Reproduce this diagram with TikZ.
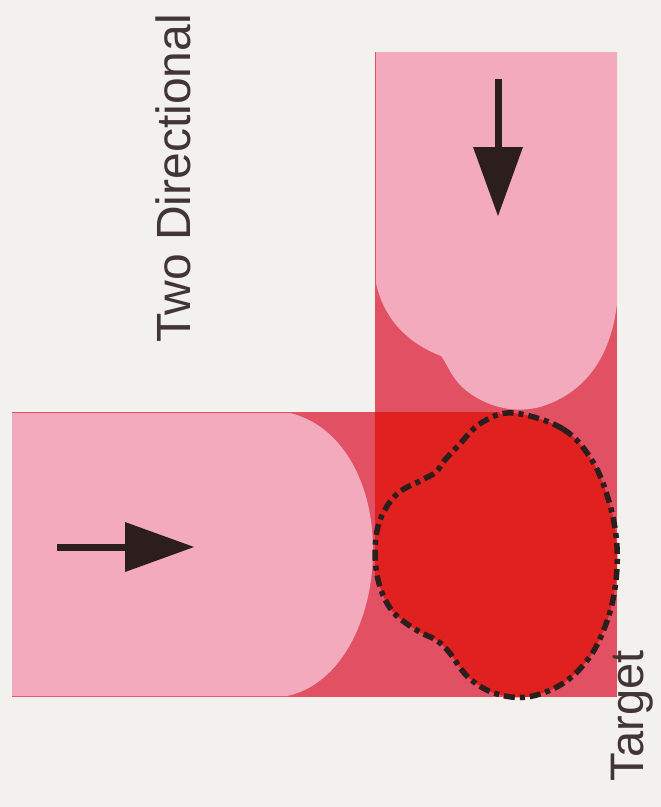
\documentclass[tikz,border=0pt]{standalone}
\usepackage{fontspec}
\setmainfont{Liberation Sans}
\usetikzlibrary{arrows.meta}

\definecolor{paper}{RGB}{243,241,237}
\definecolor{lightpink}{RGB}{243,170,188}
\definecolor{midred}{RGB}{226,80,100}
\definecolor{hotred}{RGB}{225,32,32}
\definecolor{ink}{RGB}{45,30,30}

\begin{document}
\begin{tikzpicture}[x=1pt, y=-1pt,
  band/.style={fill=midred},
  glow/.style={fill=lightpink},
  core/.style={fill=hotred},
  rim/.style={draw=ink, line width=5.5pt, dash pattern=on 11pt off 5pt on 5pt off 5pt},
  shaft/.style={draw=ink, line width=7pt},
  head/.style={fill=ink},
  caption/.style={rotate=90, anchor=base, text=ink!90, font=\fontsize{48}{58}\selectfont}
]
% paper and frame
\fill[paper] (0,0) rectangle (661,807);
\useasboundingbox (0,0) rectangle (661,807);

% the two strips
\fill[band] (12,412) rectangle (376,697);
\fill[band] (375,52) rectangle (617,697);

% light parts of the strips
\fill[glow] (12,413) -- (290,413) .. controls (340,425) and (373,480) .. (373,550)
  .. controls (373,620) and (340,685) .. (287,696) -- (12,696) -- cycle;
\fill[glow] (376,52) -- (617,52) -- (617,303) .. controls (612,350) and (590,392) .. (540,407)
  .. controls (505,416) and (475,400) .. (460,385) .. controls (450,374) and (446,362) .. (441,356)
  .. controls (415,346) and (385,325) .. (376,283) -- cycle;

% overlap
\fill[core] (375,412) rectangle (500,578);

% target outline
\path[core, rim] plot[smooth cycle, tension=0.6] coordinates {
  (513,413) (563,429) (593,462) (610,505) (617,547) (615,588) (606,624) (589,658)
  (562,684) (527,697) (494,693) (468,677) (449,652) (436,640) (418,631) (394,613)
  (380,587) (375,553) (380,520) (397,494) (422,480) (436,472) (444,461) (458,446) (481,423)};

% arrows
\coordinate (eastTail) at (57,547);
\coordinate (eastBase) at (128,547);
\coordinate (eastTip) at (194,547);
\draw[shaft] (eastTail) -- (eastBase);
\fill[head] (125,522) -- (eastTip) -- (125,572) -- cycle;

\coordinate (southTail) at (498,79);
\coordinate (southBase) at (498,150);
\coordinate (southTip) at (498,216);
\draw[shaft] (southTail) -- (southBase);
\fill[head] (473,147) -- (southTip) -- (523,147) -- cycle;

% labels
\node[caption] (twodir) at (190,178) {Two Directional};
\node[caption, font=\fontsize{47}{56}\selectfont] (target) at (643,716) {Target};
\end{tikzpicture}
\end{document}
